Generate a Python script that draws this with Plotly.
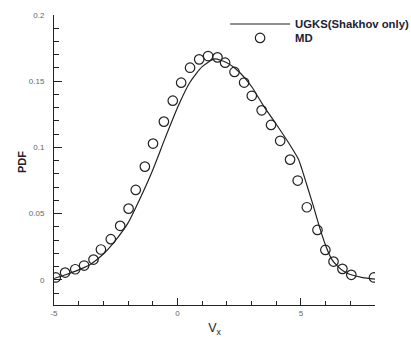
import plotly.graph_objects as go

# UGKS (Shakhov only) solid line
ugks_vx = [-5.0, -4.5, -4.0, -3.5, -3.0, -2.5, -2.0, -1.5, -1.0, -0.5, 0.0, 0.5, 1.0, 1.5,
           2.0, 2.5, 3.0, 3.5, 4.0, 4.5, 4.9, 5.1, 5.3, 5.5, 5.75, 6.0, 6.25, 6.5, 6.75,
           7.0, 7.5, 8.0]
ugks_pdf = [0.001, 0.004, 0.0075, 0.012, 0.0195, 0.030, 0.043, 0.062, 0.083, 0.107, 0.130,
            0.149, 0.161, 0.1668, 0.164, 0.157, 0.146, 0.131, 0.1175, 0.1035, 0.091, 0.080,
            0.068, 0.056, 0.040, 0.026, 0.0155, 0.0100, 0.0063, 0.004, 0.0017, 0.0006]

# MD open circles
md_vx = [-4.93, -4.55, -4.14, -3.78, -3.40, -3.10, -2.70, -2.32, -1.98, -1.69, -1.32, -0.99,
         -0.55, -0.19, 0.15, 0.51, 0.88, 1.24, 1.62, 1.93, 2.31, 2.70, 3.01, 3.41, 3.79,
         4.16, 4.56, 4.87, 5.24, 5.67, 5.99, 6.32, 6.68, 7.04, 7.96]
md_pdf = [0.0018, 0.0055, 0.008, 0.0108, 0.0153, 0.0229, 0.0307, 0.0408, 0.0538, 0.0679,
          0.0855, 0.1029, 0.1195, 0.1353, 0.1489, 0.1602, 0.1665, 0.169, 0.168, 0.164,
          0.157, 0.149, 0.139, 0.128, 0.117, 0.105, 0.0908, 0.075, 0.0548, 0.0377, 0.0226,
          0.0138, 0.0083, 0.0038, 0.0018]

x_ticks = [-5, 0, 5]
y_ticks = [0, 0.05, 0.1, 0.15, 0.2]
y_ticklabels = ["0", "0.05", "0.1", "0.15", "0.2"]

FONT = "Arial, Liberation Sans, sans-serif"
INK = "#222222"

fig = go.Figure()
fig.add_trace(go.Scatter(
    x=ugks_vx, y=ugks_pdf, mode="lines", name="<b>UGKS(Shakhov only)</b>",
    line=dict(color=INK, width=1.2, shape="spline", smoothing=0.6),
    legend="legend",
))
fig.add_trace(go.Scatter(
    x=md_vx, y=md_pdf, mode="markers", name="<b>MD</b>",
    marker=dict(symbol="circle-open", size=9.5, color=INK, line=dict(width=1.2)),
    legend="legend2",
))

legend_common = dict(
    xanchor="left", yanchor="middle",
    bgcolor="rgba(0,0,0,0)", borderwidth=0,
    font=dict(family=FONT, size=11.3, color="#222233"),
    itemwidth=60, tracegroupgap=0,
)

fig.update_layout(
    template="none",
    width=411, height=337,
    margin=dict(l=54, r=36, t=15, b=32, autoexpand=False),
    paper_bgcolor="white", plot_bgcolor="white",
    font=dict(family=FONT, color=INK),
    showlegend=True,
    legend=dict(x=0.533, y=0.969, **legend_common),
    legend2=dict(x=0.533, y=0.921, **legend_common),
    xaxis=dict(
        automargin=False,
        range=[-5, 8], showgrid=False, zeroline=False,
        showline=True, linecolor=INK, linewidth=1, mirror=False,
        tickmode="array", tickvals=x_ticks, ticktext=[str(v) for v in x_ticks],
        ticks="inside", ticklen=7, tickcolor=INK, tickwidth=1,
        minor=dict(dtick=1, ticks="inside", ticklen=4, tickcolor=INK, showgrid=False),
        tickfont=dict(family=FONT, size=8, color="#666666"),
        title=dict(text="V<sub>x</sub>", font=dict(family=FONT, size=12.5, color=INK)),
    ),
    yaxis=dict(
        automargin=False,
        range=[-0.019, 0.2], showgrid=False, zeroline=False,
        showline=True, linecolor=INK, linewidth=1, mirror=False,
        tickmode="array", tickvals=y_ticks, ticktext=y_ticklabels,
        ticks="inside", ticklen=8, tickcolor=INK, tickwidth=1,
        minor=dict(dtick=0.01, ticks="inside", ticklen=5, tickcolor=INK, showgrid=False),
        tickfont=dict(family=FONT, size=8, color="#666666"),
        ticklabelstandoff=7,
    ),
    annotations=[dict(
        text="<b>PDF</b>", textangle=-90, showarrow=False,
        xref="paper", yref="paper", x=-0.0997, y=0.493,
        xanchor="center", yanchor="middle",
        font=dict(family=FONT, size=11, color=INK),
    )],
)

fig.write_html("out.html")
